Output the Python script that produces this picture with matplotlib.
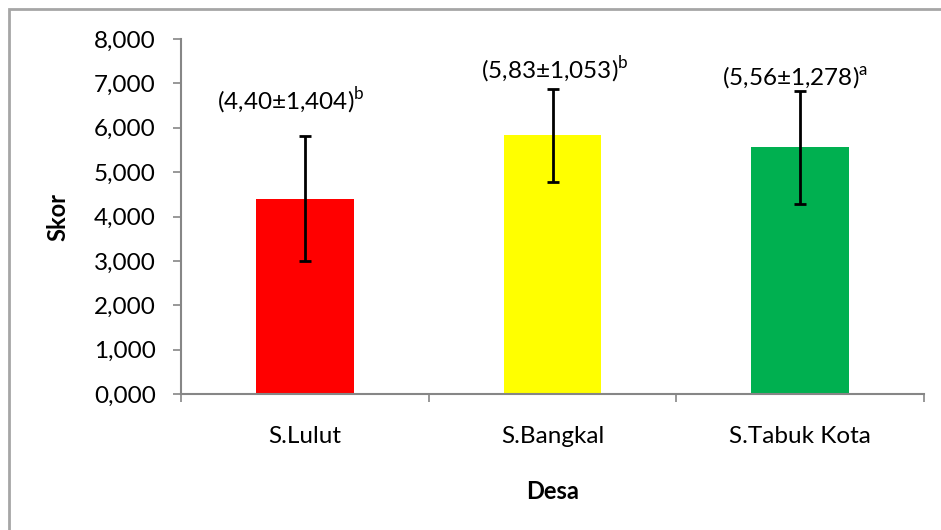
import matplotlib
matplotlib.use('Agg')
import matplotlib.pyplot as plt
from matplotlib.patches import Rectangle
from matplotlib.ticker import FuncFormatter, FixedLocator

plt.rcParams['font.family'] = ['Lato', 'DejaVu Sans']
plt.rcParams['mathtext.fontset'] = 'custom'
plt.rcParams['mathtext.rm'] = 'Lato'

desa = ['S.Lulut', 'S.Bangkal', 'S.Tabuk Kota']
skor = [4.40, 5.83, 5.56]
sd = [1.404, 1.053, 1.278]
notasi = ['b', 'b', 'a']
warna = ['#ff0000', '#ffff00', '#00b050']
# placement of the value labels
label_y = [6.62, 7.30, 7.14]
label_dx = [-0.055, 0.01, -0.02]

fig = plt.figure(figsize=(9.41, 5.30), dpi=100)
ax = fig.add_axes([0.1923, 0.2566, 0.7897, 0.6698])

# chart area border
fig.patches.append(Rectangle((9 / 941, -0.1), 1.2, 1 - 9 / 530 + 0.1,
                             transform=fig.transFigure, fill=False,
                             edgecolor='#a6a6a6', linewidth=2))

x = range(len(desa))
ax.bar(x, skor, width=0.395, color=warna, zorder=2)
ax.errorbar(x, skor, yerr=sd, fmt='none', ecolor='black', elinewidth=2,
            capsize=4, capthick=2, zorder=3)

for i in x:
    teks = f'({skor[i]:.2f}±{sd[i]:.3f})'.replace('.', ',')
    ax.text(i + label_dx[i], label_y[i], teks + r'$^{\mathrm{' + notasi[i] + '}}$',
            ha='center', va='center', fontsize=17.5)

ax.set_xlim(-0.5, 2.5)
ax.set_ylim(0, 8)
ax.yaxis.set_major_locator(FixedLocator([0, 1, 2, 3, 4, 5, 6, 7, 8]))
ax.yaxis.set_major_formatter(FuncFormatter(lambda v, p: f'{v:.3f}'.replace('.', ',')))

ax.set_xticks(list(x))
ax.set_xticklabels(desa)
ax.set_xticks([-0.5, 0.5, 1.5, 2.5], minor=True)
ax.tick_params(axis='x', which='major', length=0, pad=23, labelsize=17.5)
ax.tick_params(axis='x', which='minor', length=6, width=1.2, color='#868686', direction='out')
ax.tick_params(axis='y', length=6, width=1.2, color='#868686', pad=12, labelsize=17.5)

for s in ['top', 'right']:
    ax.spines[s].set_visible(False)
for s in ['left', 'bottom']:
    ax.spines[s].set_color('#868686')
    ax.spines[s].set_linewidth(1.5)

ax.set_xlabel('Desa', fontsize=17, fontweight='bold', labelpad=24)
ax.set_ylabel('Skor', fontsize=17, fontweight='bold', labelpad=18)

fig.savefig('out.png', dpi=100)
